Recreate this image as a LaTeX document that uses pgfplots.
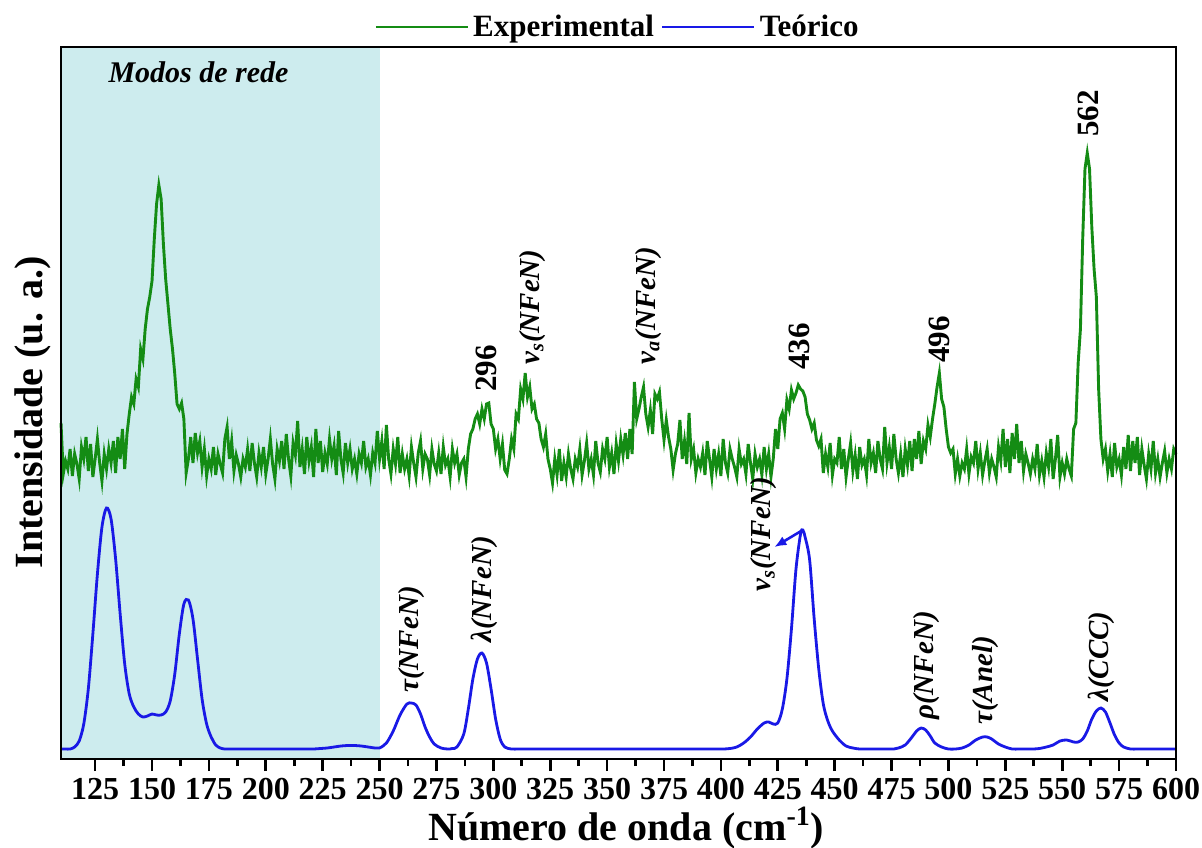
\documentclass[border=0pt]{standalone}
\usepackage{fontspec}
\setmainfont{Liberation Serif}
\usepackage{pgfplots}
\pgfplotsset{compat=1.18}
\usetikzlibrary{arrows.meta}
\definecolor{expgreen}{RGB}{20,140,20}
\definecolor{teoblue}{RGB}{25,25,230}
\definecolor{redebg}{RGB}{205,236,238}
\newcommand{\annfont}{\fontsize{14.5}{14.5}\selectfont\bfseries\itshape}
\newcommand{\numfont}{\fontsize{15.5}{15.5}\selectfont\bfseries}
\begin{document}
\begin{tikzpicture}
\path[use as bounding box] (-30.5pt,-44pt) rectangle (570.5pt,379.5pt);
\begin{axis}[
  at={(0,0)}, anchor=south west,
  scale only axis, width=557.5pt, height=356pt,
  xmin=110, xmax=600, ymin=0, ymax=712,
  xtick={125,150,...,600}, minor x tick num=1,
  ytick=\empty,
  xtick pos=bottom, tick align=outside,
  major tick length=6pt, minor tick length=3.5pt,
  every tick/.style={black, line width=1.3pt},
  axis line style={line width=1.4pt},
  axis on top,
  /pgf/number format/assume math mode=true,
  /pgf/number format/1000 sep={},
  xticklabel style={font=\fontsize{16}{16}\selectfont\bfseries},
  xlabel={Número de onda (cm\textsuperscript{-1})},
  ylabel={Intensidade (u. a.)},
  label style={font=\fontsize{20}{20}\selectfont\bfseries},
  xlabel style={at={(axis description cs:0.507,-0.115)}, anchor=base},
  ylabel style={at={(axis description cs:-0.017,0.487)}, anchor=base},
  clip=false,
  legend style={at={(0.5,1.028)}, anchor=center, draw=none, fill=none,
    legend columns=2, font=\fontsize{15.5}{15.5}\selectfont\bfseries,
    column sep=0pt, /tikz/every even column/.append style={column sep=1.5pt}},
  legend image code/.code={\draw[#1, line width=1.4pt] (-6pt,0pt) -- (40pt,0pt);},
]
\fill[redebg] (axis cs:110,0) rectangle (axis cs:250,712);

\addplot[expgreen, line width=1.45pt] coordinates {
(110,336)(111,285)(112,298)(113,290)(114,310)(115,283)(116,305)(117,295)(118,280)(119,312)
(120,300)(121,322)(122,288)(123,315)(124,282)(125,300)(126,320)(127,296)(128,278)(129,305)
(130,290)(131,310)(132,296)(133,318)(134,286)(135,322)(136,300)(137,330)(138,290)(139,325)
(140,345)(141,362)(142,355)(143,380)(144,372)(145,410)(146,400)(147,430)(148,450)(149,462)
(150,478)(151,520)(152,555)(153,574)(154,560)(155,515)(156,480)(157,455)(158,430)(159,410)
(160,385)(161,355)(162,350)(163,356)(164,340)(165,286)
(166,300)(167,322)(168,296)(169,326)(170,306)(171,318)(172,292)(173,310)(174,283)(175,300)
(176,290)(177,312)(178,284)(179,305)(180,295)(181,286)(182,320)(183,332)(184,300)(185,318)
(186,288)(187,304)(188,295)(189,282)(190,300)(191,292)(192,310)(193,288)(194,316)(195,296)
(196,282)(197,306)(198,292)(199,312)(200,285)(201,300)(202,320)(203,295)(204,280)(205,310)
(206,298)(207,318)(208,290)(209,325)(210,300)(211,283)(212,316)(213,304)(214,338)(215,292)
(216,310)(217,285)(218,322)(219,298)(220,312)(221,282)(222,330)(223,296)(224,318)(225,287)
(226,306)(227,295)(228,320)(229,300)(230,313)(231,284)(232,328)(233,300)(234,286)(235,316)
(236,296)(237,310)(238,290)(239,300)(240,285)(241,305)(242,296)(243,318)(244,292)(245,300)
(246,284)(247,306)(248,296)(249,328)(250,300)
(251,318)(252,290)(253,334)(254,300)(255,285)(256,310)(257,295)(258,322)(259,286)(260,305)
(261,290)(262,300)(263,283)(264,312)(265,296)(266,282)(267,306)(268,318)(269,290)(270,305)
(271,300)(272,284)(273,310)(274,295)(275,288)(276,306)(277,285)(278,312)(279,294)(280,300)
(281,282)(282,310)(283,296)(284,305)(285,284)(286,296)(287,300)(288,282)(289,310)
(290,325)(291,330)(292,340)(293,345)(294,335)(295,350)(296,340)(297,355)(298,356)(299,335)
(300,330)(301,310)(302,320)(303,300)(304,315)(305,289)(306,285)(307,300)(308,320)(309,310)
(310,345)(311,340)(312,370)(313,360)(314,386)(315,362)(316,372)(317,350)(318,355)(319,340)
(320,336)(321,320)(322,312)(323,325)(324,300)(325,290)(326,276)
(327,300)(328,284)(329,310)(330,278)(331,296)(332,282)(333,305)(334,290)(335,280)(336,300)
(337,292)(338,310)(339,284)(340,298)(341,316)(342,290)(343,300)(344,284)(345,318)(346,296)
(347,287)(348,310)(349,300)(350,322)(351,292)(352,306)(353,285)(354,315)(355,298)(356,320)
(357,304)(358,326)(359,300)(360,330)
(361,305)(362,377)(363,340)(364,350)(365,362)(366,372)(367,345)(368,332)(369,349)(370,325)
(371,365)(372,360)(373,367)(374,340)(375,319)(376,339)(377,322)(378,310)(379,289)(380,305)
(381,315)(382,339)(383,300)(384,318)(385,295)(386,346)(387,300)(388,310)(389,286)
(390,300)(391,292)(392,306)(393,284)(394,318)(395,300)(396,282)(397,310)(398,290)(399,305)
(400,283)(401,320)(402,296)(403,286)(404,310)(405,300)(406,292)(407,282)(408,310)(409,295)
(410,300)(411,285)(412,315)(413,296)(414,280)(415,305)(416,292)(417,300)(418,284)(419,312)
(420,290)(421,305)(422,282)(423,300)(424,330)
(425,310)(426,340)(427,346)(428,330)(429,359)(430,350)(431,369)(432,360)(433,366)(434,374)
(435,370)(436,368)(437,362)(438,345)(439,339)(440,330)(441,336)(442,319)(443,313)(444,320)(445,286)
(446,305)(447,292)(448,316)(449,284)(450,300)(451,296)(452,322)(453,290)(454,310)(455,282)
(456,300)(457,316)(458,288)(459,304)(460,280)(461,312)(462,294)(463,300)(464,284)(465,320)
(466,296)(467,306)(468,286)(469,318)(470,300)(471,290)(472,332)(473,296)(474,312)(475,290)
(476,325)(477,300)(478,286)(479,305)(480,282)(481,310)(482,294)(483,318)(484,288)(485,320)
(486,300)(487,328)(488,295)(489,318)(490,310)
(491,334)(492,322)(493,340)(494,355)(495,372)(496,386)(497,360)(498,352)(499,330)(500,312)
(501,306)(502,310)(503,285)
(504,300)(505,283)(506,296)(507,290)(508,310)(509,285)(510,302)(511,296)(512,318)(513,290)
(514,306)(515,284)(516,298)(517,310)(518,286)(519,300)(520,292)(521,282)(522,312)(523,298)
(524,330)(525,292)(526,320)(527,286)(528,326)(529,300)(530,335)(531,296)(532,318)(533,288)
(534,305)(535,296)(536,285)(537,300)(538,290)(539,315)(540,284)(541,298)(542,282)(543,306)
(544,292)(545,320)(546,280)(547,300)(548,324)(549,282)(550,296)(551,285)(552,300)(553,290)(554,283)
(555,330)(556,336)(557,396)(558,430)(559,520)(560,590)(561,606)(562,590)(563,532)(564,490)
(565,462)(566,370)(567,320)(568,300)
(569,310)(570,288)(571,305)(572,282)(573,316)(574,292)(575,300)(576,284)(577,312)(578,290)
(579,324)(580,288)(581,318)(582,296)(583,322)(584,284)(585,310)(586,294)(587,280)(588,305)
(589,290)(590,318)(591,286)(592,300)(593,282)(594,296)(595,308)(596,286)(597,300)(598,290)
(599,310)(600,305)
};
\addlegendentry{Experimental}

\addplot[teoblue, line width=1.4pt, smooth, tension=0.5] coordinates {
(110,10)(112,10)(114,10)(116,12)(118,18)(120,35)(122,70)(124,125)(126,185)(128,232)(130,251)
(132,240)(134,200)(136,145)(138,95)(140,65)(142,52)(144,45)(146,42)(148,43)(150,45)
(152,44)(154,44)(156,47)(158,58)(160,85)(162,125)(164,155)(166,159)(168,140)(170,100)
(172,60)(174,35)(176,22)(178,14)(180,11)(182,10)(185,10)(188,10)(191,10)(194,10)(197,10)
(200,10)(203,10)(206,10)(209,10)(212,10)(215,10)(218,10)(221,10)(224,10.5)(227,11)(230,12)
(233,13)(236,13.5)(239,13.5)(242,13)(245,12)(248,11)(250,11)(253,16)(256,28)(259,44)
(262,55)(264,56)(266,54)(268,45)(270,32)(272,22)(274,15)(277,11)(280,10)(282,10.5)(284,12)
(287,25)(289,50)(291,80)(293,100)(295,106)(297,96)(299,70)(301,40)(303,20)(305,12)(308,10)
(311,10)(314,10)(317,10)(320,10)(323,10)(326,10)(329,10)(332,10)(335,10)(338,10)(341,10)
(344,10)(347,10)(350,10)(353,10)(356,10)(359,10)(362,10)(365,10)(368,10)(371,10)(374,10)
(377,10)(380,10)(383,10)(386,10)(389,10)(392,10)(395,10)(398,10)(401,10)(404,10.5)
(407,12)(410,16)(413,22)(416,30)(419,36)(421,37)(423,35)(425,36)(427,50)(429,80)(431,130)
(433,190)(435,225)(436,229)(437,222)(439,199)(441,140)(443,90)(445,55)(447,38)(449,28)
(452,19)(455,13)(458,11)(461,10)(464,10)(467,10)(470,10)(473,10)(476,10)(478,11)
(481,14)(484,22)(486,28)(488,31)(490,29)(492,23)(494,16)(497,12)(500,10)(503,10)(506,11)
(509,14)(512,19)(515,22)(517,22)(519,20)(522,15)(525,12)(528,10)(531,10)(534,10)(537,10)
(540,10.5)(543,12)(546,14)(549,18)(552,19)(555,17)(557,17)(559,20)(561,28)
(563,40)(565,48)(567,51)(569,47)(571,36)(573,24)(575,16)(577,12)(580,10)(583,10)(586,10)
(589,10)(592,10)(595,10)(598,10)(600,10)
};
\addlegendentry{Teórico}

\node[anchor=base west, inner sep=0pt, font=\fontsize{15}{15}\selectfont\bfseries\itshape] at (axis cs:130.7,676) {Modos de rede};

\node[rotate=90, anchor=west, inner sep=0pt, font=\numfont] at (axis cs:297,367) {296};
\node[rotate=90, anchor=west, inner sep=0pt, font=\numfont] at (axis cs:434.7,389) {436};
\node[rotate=90, anchor=west, inner sep=0pt, font=\numfont] at (axis cs:496.2,396) {496};
\node[rotate=90, anchor=west, inner sep=0pt, font=\numfont] at (axis cs:561.4,622) {562};
\node[rotate=90, anchor=west, inner sep=0pt, font=\annfont] at (axis cs:317,394) {v\textsubscript{s}(NFeN)};
\node[rotate=90, anchor=west, inner sep=0pt, font=\annfont] at (axis cs:368,394) {v\textsubscript{a}(NFeN)};

\node[rotate=90, anchor=west, inner sep=0pt, font=\annfont] at (axis cs:264,66) {τ(NFeN)};
\node[rotate=90, anchor=west, inner sep=0pt, font=\annfont] at (axis cs:295.9,116) {λ(NFeN)};
\node[rotate=90, anchor=west, inner sep=0pt, font=\annfont] at (axis cs:418.6,167) {v\textsubscript{s}(NFeN)};
\node[rotate=90, anchor=west, inner sep=0pt, font=\annfont] at (axis cs:490.3,39) {ρ(NFeN)};
\node[rotate=90, anchor=west, inner sep=0pt, font=\annfont] at (axis cs:516.4,34) {τ(Anel)};
\node[rotate=90, anchor=west, inner sep=0pt, font=\annfont] at (axis cs:567.2,57) {λ(CCC)};
\draw[teoblue, line width=1.3pt, -{Latex[length=6pt,width=5pt]}] (axis cs:436,229) -- (axis cs:423.5,212);
\end{axis}
\end{tikzpicture}
\end{document}
